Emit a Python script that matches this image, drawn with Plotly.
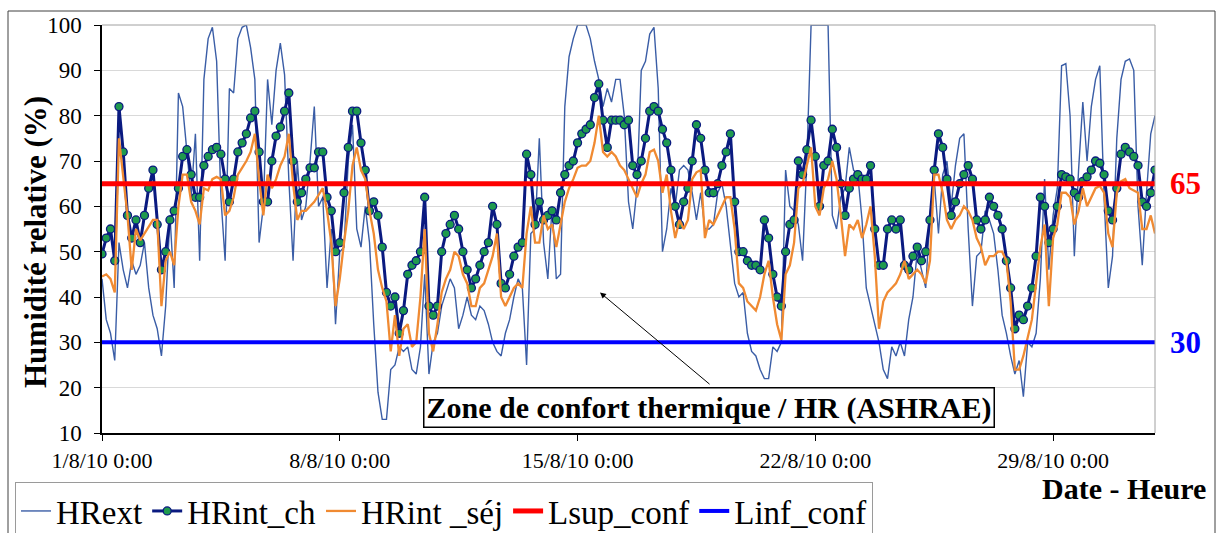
import pandas as pd
import plotly.graph_objects as go

# Relative humidity, 3-hourly readings, 1 Aug 2010 00:00 -> 1 Sep 2010 00:00
times = pd.date_range("2010-08-01 00:00", "2010-09-01 00:00", freq="3h")

hr_ext = [
    44, 35, 32, 26, 52, 46, 42, 48,
    45, 47, 52, 42, 36, 33, 27, 38,
    58, 42, 85, 82, 72, 62, 76, 48,
    88, 97, 99.5, 92, 62, 48, 86, 85,
    97, 99.5, 100, 95, 88, 52, 60, 88,
    78, 90, 96, 89, 66, 48, 70, 57,
    60, 70, 82, 60, 62, 42, 55, 34,
    50, 51, 70, 78, 55, 51, 60, 52,
    34, 19, 13, 13, 24, 25, 29, 28,
    29, 24, 23, 29, 45, 23, 30, 32,
    38, 41, 44, 42, 33, 36, 40, 36,
    35, 38, 37, 34, 30, 28, 27, 32,
    35, 40, 44, 42, 25, 54, 55, 75,
    52, 44, 60, 44, 45, 82, 93, 97,
    100, 100, 100, 97, 92, 88, 82, 86,
    83, 88, 88, 80, 61, 55, 64, 90,
    92, 98, 99.5, 86, 50, 55, 64, 60,
    68, 69, 68, 63, 57, 63, 55, 55,
    56, 63, 65, 60, 52, 43, 40, 41,
    32, 28, 27, 24, 22, 22, 29, 28,
    30, 68, 60, 59, 56, 48, 70, 100,
    100, 100, 100, 100, 58, 55, 62, 64,
    73, 68, 67, 57, 42, 38, 34, 30,
    24, 22, 29, 27, 30, 27, 35, 40,
    50, 46, 42, 58, 66, 54, 67, 70,
    60, 69, 75, 76, 55, 38, 49, 50,
    59, 57, 54, 46, 36, 32, 27, 23,
    26, 18, 30, 29, 32, 44, 66, 46,
    58, 64, 91, 91.5, 80, 49, 68, 83,
    70, 82, 88, 91, 62, 42, 49, 75,
    88, 92, 92.5, 90, 60, 47, 63, 76,
    80,
]

hr_int_ch = [
    49.5, 53, 55, 48, 82, 72, 58, 53,
    57, 52, 58, 64, 68, 56, 46, 50,
    57, 59, 64, 71, 72.5, 67, 62, 62,
    69, 71, 72.5, 73, 71.5, 66, 61, 66,
    72, 74, 76, 79.5, 81, 72, 61, 61,
    70, 75.5, 77.5, 81, 85, 70, 61, 63,
    66, 68.5, 68.5, 72, 72, 62, 59, 50,
    52, 63, 73, 81, 81, 74, 68, 59,
    61, 58, 51, 41, 38, 40, 32, 37,
    45, 47, 48, 50, 62, 38, 36, 38,
    50, 54, 56, 58, 55, 50, 46, 42,
    44, 47, 50, 52, 60, 56, 43, 42,
    45, 49, 51, 52, 71.5, 67, 56, 61,
    57, 58, 59, 57, 63, 67, 69, 70,
    74, 76, 77, 78, 84, 87, 79, 73,
    79, 79, 79, 78, 79, 69, 67, 70,
    75, 81, 82, 81, 77, 74, 68, 60,
    56, 61, 64, 70, 78, 75, 68, 63,
    63, 65, 69, 72, 76, 61, 50, 50,
    48, 47, 47, 46, 57, 53, 45, 40,
    38, 50, 56, 57, 70, 67, 72.5, 79,
    71, 60, 69, 70, 77, 73, 65, 58,
    64, 66, 67, 66, 66, 69, 55, 47,
    47, 55, 57, 55, 57, 47, 46, 49,
    51, 48, 50, 57, 68, 76, 73, 66,
    58, 61, 65, 67, 69, 66, 57, 55,
    57, 62, 60, 58, 55, 48, 42, 33,
    36, 35, 38, 42, 49, 62, 60, 52,
    55, 60, 67, 66.5, 66, 63, 62, 65.5,
    66.5, 68, 70, 69.5, 67, 59, 57, 64,
    71.5, 73, 72, 71, 69, 61, 60, 63,
    68,
]

hr_int_sej = [
    44.5, 45, 44, 41, 75, 66, 58, 46,
    55, 52.5, 54, 55.5, 57, 57, 38, 48,
    50, 47, 60, 67, 67, 61, 59, 56,
    64, 63.5, 66, 66.5, 66, 58, 59, 62,
    67, 68.5, 70, 72, 76, 66, 58, 67,
    64, 66, 69, 71, 76, 65, 57, 59,
    59, 60, 61, 62.5, 64, 59, 52, 38,
    44, 52, 59, 69, 73, 68, 66, 59,
    54, 46, 42, 39, 28, 36, 27, 33,
    34, 29, 30, 40, 55, 32, 28, 34,
    41, 44, 46, 50, 49, 45, 43, 38,
    38, 42, 43, 46, 49, 54, 40, 38,
    40, 42, 43, 42, 54, 60, 52, 52,
    58, 55, 56, 51, 56, 61, 64, 66,
    68.5, 69, 69, 70, 74, 80, 72, 71,
    72, 71, 69, 68, 66, 64, 62, 65,
    67, 72, 72.5, 70, 63, 67, 59, 53,
    57, 55, 57, 66, 67.5, 68, 53, 57,
    56, 58, 60, 62, 62, 55, 43, 42,
    39, 38, 37, 40, 45, 48, 40, 34,
    30.5, 45, 47, 52, 64, 65, 69, 73,
    60, 58, 64, 66, 70, 66, 58, 49,
    56, 55, 57, 53, 56, 60, 49, 33,
    39, 41, 42, 43, 45, 48, 44, 45,
    46, 45, 43, 48, 67, 67, 63, 57,
    55, 57, 58, 60, 59, 57, 53, 51,
    47, 49, 49, 50, 50, 48, 39, 24,
    24, 27, 31, 35, 43, 51, 56, 38,
    53, 56, 63, 63, 62, 56, 59, 64,
    60, 62, 64, 64.5, 63, 54, 51, 63,
    65.5, 66, 64, 63.5, 63, 55, 55, 58,
    54,
]

# ASHRAE comfort band limits
lsup_conf = 65
linf_conf = 30

tick_dates = ["2010-08-01", "2010-08-08", "2010-08-15", "2010-08-22", "2010-08-29"]
tick_text = ["1/8/10 0:00", "8/8/10 0:00", "15/8/10 0:00", "22/8/10 0:00", "29/8/10 0:00"]
y_ticks = [10, 20, 30, 40, 50, 60, 70, 80, 90, 100]

SERIF = "Liberation Serif, Times New Roman, serif"

# plot area in pixels
W, H = 1218, 533
L, R, T, B = 102, 1155, 25, 433


def px(xp):
    return (xp - L) / (R - L)


def py(yp):
    return (B - yp) / (B - T)


fig = go.Figure()

fig.add_trace(go.Scatter(
    x=times, y=hr_ext, name="HRext", mode="lines",
    line=dict(color="#3A5DA6", width=1.4),
))
fig.add_trace(go.Scatter(
    x=times, y=hr_int_ch, name="HRint_ch", mode="lines+markers",
    line=dict(color="#0A1A80", width=3),
    marker=dict(symbol="circle", size=8, color="#1F9A4E",
                line=dict(color="#0A1A80", width=1.3)),
))
fig.add_trace(go.Scatter(
    x=times, y=hr_int_sej, name="HRint _séj", mode="lines",
    line=dict(color="#F08A32", width=2.3),
))
fig.add_trace(go.Scatter(
    x=[times[0], times[-1]], y=[lsup_conf, lsup_conf], name="Lsup_conf",
    mode="lines", line=dict(color="#FF0000", width=5),
))
fig.add_trace(go.Scatter(
    x=[times[0], times[-1]], y=[linf_conf, linf_conf], name="Linf_conf",
    mode="lines", line=dict(color="#0000FF", width=4),
))

annotations = [
    dict(text="<b>Humidité relative (%)</b>", xref="paper", yref="paper",
         x=px(35), y=py(242), textangle=-90, showarrow=False,
         font=dict(family=SERIF, size=31, color="black"),
         xanchor="center", yanchor="middle"),
    dict(text="<b>Date - Heure</b>", xref="paper", yref="paper",
         x=px(1208), y=py(488), showarrow=False,
         font=dict(family=SERIF, size=30, color="black"),
         xanchor="right", yanchor="middle"),
    dict(text="<b>65</b>", xref="paper", yref="y", x=px(1168), y=lsup_conf,
         showarrow=False, xanchor="left", yanchor="middle",
         font=dict(family=SERIF, size=31, color="#FF0000")),
    dict(text="<b>30</b>", xref="paper", yref="y", x=px(1168), y=linf_conf,
         showarrow=False, xanchor="left", yanchor="middle",
         font=dict(family=SERIF, size=31, color="#0000FF")),
    dict(text="", x="2010-08-15 15:50", y=41, xref="x", yref="y",
         ax="2010-08-18 22:20", ay=20.5, axref="x", ayref="y",
         showarrow=True, arrowhead=2, arrowsize=1.2, arrowwidth=1,
         arrowcolor="black"),
    dict(text="<b>Zone de confort thermique / HR (ASHRAE)</b>",
         xref="paper", yref="paper", x=px(709), y=py(407),
         showarrow=False, xanchor="center", yanchor="middle",
         font=dict(family=SERIF, size=30, color="black"),
         bgcolor="white", bordercolor="black", borderwidth=1.5, borderpad=2),
]

shapes = [
    # outer chart frame
    dict(type="rect", xref="paper", yref="paper",
         x0=px(8), x1=px(1215), y0=py(545), y1=py(11),
         line=dict(color="#404040", width=1), layer="below"),
    # plot area top/right border
    dict(type="line", xref="paper", yref="paper", x0=0, x1=1, y0=1, y1=1,
         line=dict(color="#A0A0A0", width=1)),
    dict(type="line", xref="paper", yref="paper", x0=1, x1=1, y0=0, y1=1,
         line=dict(color="#A0A0A0", width=1)),
]

fig.update_layout(
    width=W, height=H,
    margin=dict(l=L, r=W - R, t=T, b=H - B, pad=0, autoexpand=False),
    paper_bgcolor="white", plot_bgcolor="white",
    font=dict(family=SERIF, size=20, color="black"),
    showlegend=True,
    legend=dict(
        orientation="h", x=px(15), y=py(511), xanchor="left", yanchor="middle",
        font=dict(family=SERIF, size=33, color="black"),
        bgcolor="white", bordercolor="#9A9A9A", borderwidth=1,
        itemwidth=30, tracegroupgap=0,
    ),
    annotations=annotations,
    shapes=shapes,
    xaxis=dict(
        range=[times[0], times[-1]], tickvals=tick_dates, ticktext=tick_text,
        showgrid=False, zeroline=False,
        showline=True, linecolor="black", linewidth=1.5, mirror=False,
        ticks="outside", ticklen=6, tickcolor="black",
        ticklabelstandoff=1,
        tickfont=dict(family=SERIF, size=22, color="black"),
    ),
    yaxis=dict(
        range=[10, 100], tickvals=y_ticks,
        showgrid=True, gridcolor="#D9D9D9", gridwidth=1, zeroline=False,
        showline=True, linecolor="black", linewidth=1.5,
        ticks="outside", ticklen=6, tickcolor="black",
        ticklabelstandoff=8,
        tickfont=dict(family=SERIF, size=23, color="black"),
    ),
)

fig.write_html("out.html")
